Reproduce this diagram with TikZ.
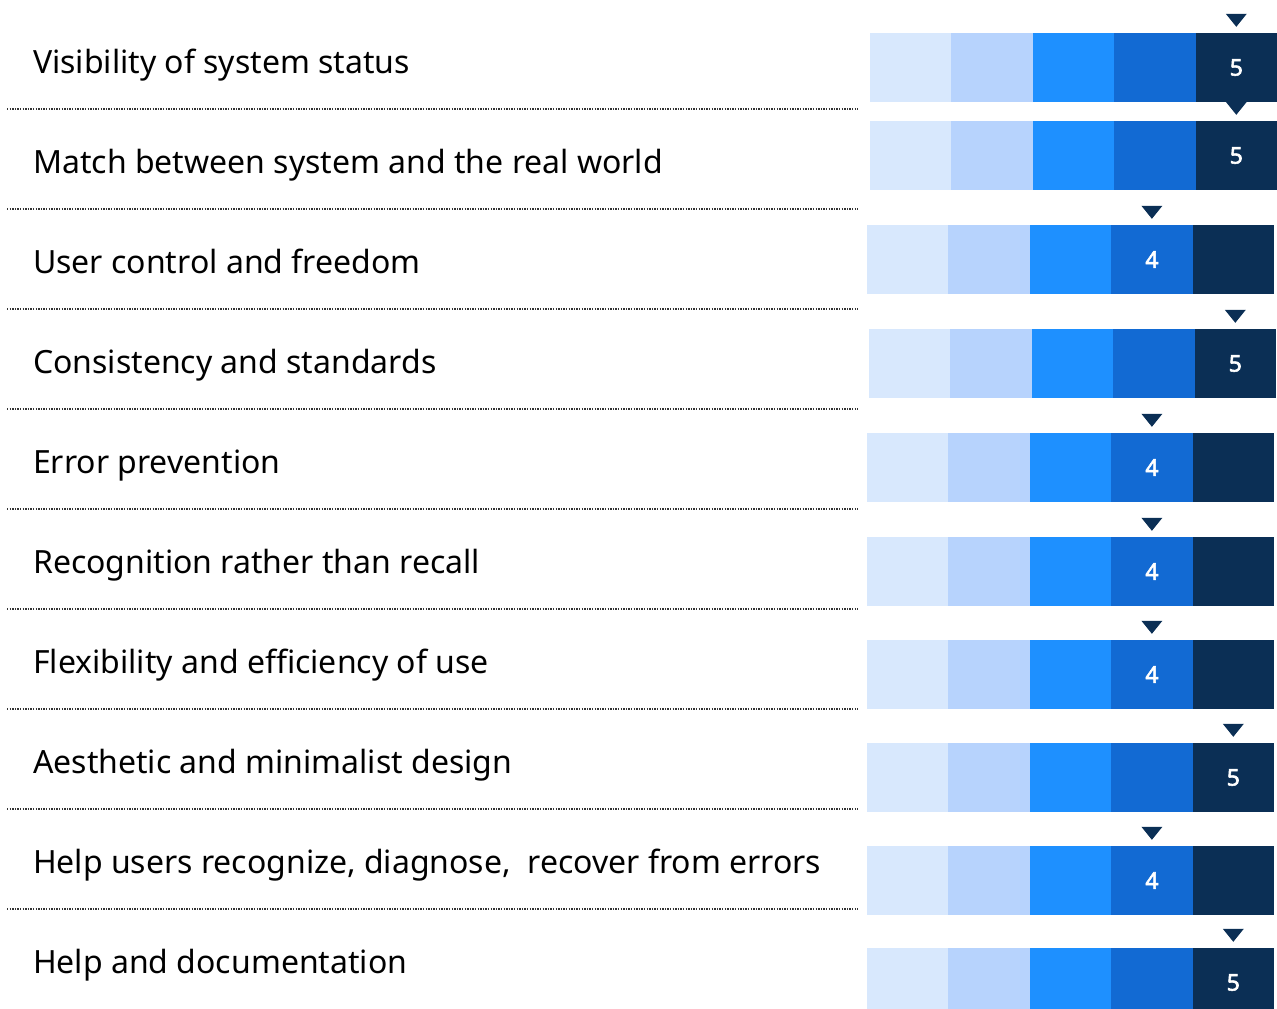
\documentclass[tikz,border=0pt]{standalone}
\usepackage{fontspec}
\setmainfont{Noto Sans}
\newfontfamily\numfont{Noto Sans}[FakeBold=2.5]
\usepackage{xcolor}
\usepackage{tikz}

\definecolor{shade1}{HTML}{D8E8FD}
\definecolor{shade2}{HTML}{B7D3FD}
\definecolor{shade3}{HTML}{1E90FF}
\definecolor{shade4}{HTML}{126AD3}
\definecolor{shade5}{HTML}{0B2F55}

\begin{document}
\begin{tikzpicture}[
    x                 = 1pt,
    y                 = -1pt,
    rowtext/.style    = {anchor=base west, inner sep=0pt, font=\fontsize{32}{38}\selectfont},
    seg/.style        = {draw=none, inner sep=0pt, minimum width=81.6pt, minimum height=69pt},
    scorenum/.style   = {text=white, font=\numfont\fontsize{23}{28}\selectfont},
    sepline/.style    = {draw=black!80, line width=1.3pt, dash pattern=on 1.3pt off 1.3pt},
    pointer/.style    = {fill=shade5}
  ]
\useasboundingbox (0,0) rectangle (1277,1009);
\foreach \i/\top/\left/\score/\txt in {
    1/33/870/5/{Visibility of system status},
    2/121/870/5/{Match between system and the real world},
    3/225/867/4/{User control and freedom},
    4/329/869/5/{Consistency and standards},
    5/433/867/4/{Error prevention},
    6/537/867/4/{Recognition rather than recall},
    7/640/867/4/{Flexibility and efficiency of use},
    8/743/867/5/{Aesthetic and minimalist design},
    9/846/867/4/{Help users recognize, diagnose,\ \ recover from errors},
    10/948/867/5/{Help and documentation}}
{
  \pgfmathsetmacro{\base}{73+100*(\i-1)}
  \node[rowtext] (lab-\i) at (33,\base) {\txt};
  % five shades, one per score
  \foreach \j in {1,...,5}
    \node[seg, fill=shade\j] (seg-\i-\j) at ({\left+81.4*\j-40.7},{\top+34.5}) {};
  \node[scorenum] (num-\i) at (seg-\i-\score) {\score};
  \fill[pointer] (seg-\i-\score.north) ++(-10.5,-19) -- ++(21,0) -- ++(-10.5,13) -- cycle;
  \ifnum\i<10
    \draw[sepline] (7,{\base+36}) -- (858,{\base+36});
  \fi
}
\end{tikzpicture}
\end{document}
